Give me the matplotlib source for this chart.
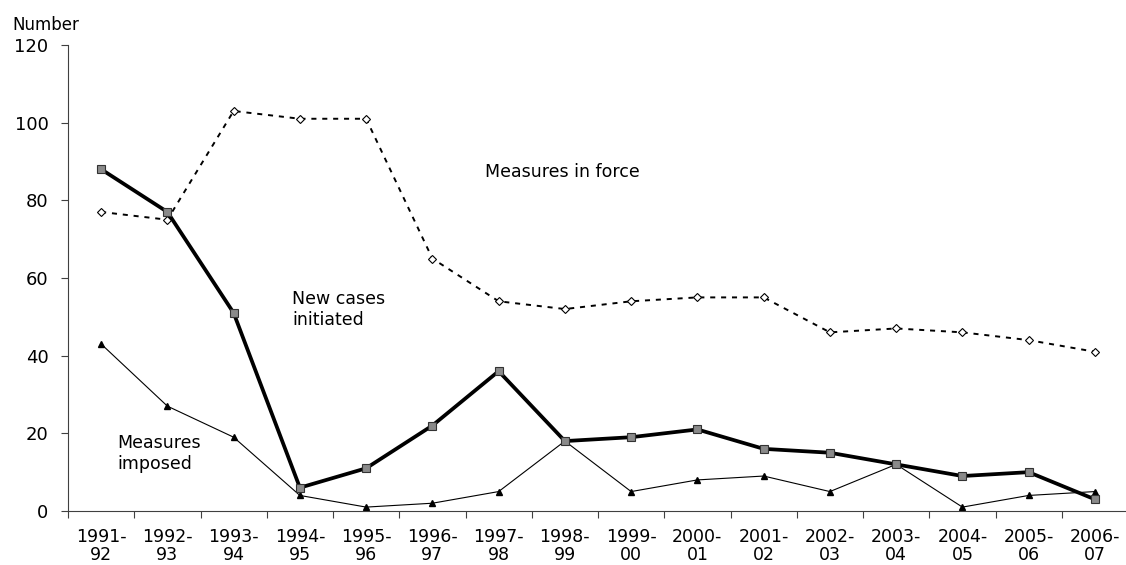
import matplotlib.pyplot as plt
import numpy as np

plt.rcParams['font.family'] = ['DejaVu Sans']

# Data
years = ['1991-\n92', '1992-\n93', '1993-\n94', '1994-\n95', '1995-\n96', '1996-\n97',
         '1997-\n98', '1998-\n99', '1999-\n00', '2000-\n01', '2001-\n02', '2002-\n03',
         '2003-\n04', '2004-\n05', '2005-\n06', '2006-\n07']
new_cases = [88, 77, 51, 6, 11, 22, 36, 18, 19, 21, 16, 15, 12, 9, 10, 3]
in_force = [77, 75, 103, 101, 101, 65, 54, 52, 54, 55, 55, 46, 47, 46, 44, 41]
imposed = [43, 27, 19, 4, 1, 2, 5, 18, 5, 8, 9, 5, 12, 1, 4, 5]

x = np.arange(len(years))

fig = plt.figure(figsize=(11.26, 5.65), dpi=100)
ax = fig.add_axes([0.0604, 0.0956, 0.9414, 0.8248])

ax.plot(x, in_force, color='black', lw=1.4, linestyle=(0, (2.6, 3)),
        marker='D', markersize=4, markerfacecolor='white', markeredgecolor='black',
        markeredgewidth=0.8)
ax.plot(x, imposed, color='black', lw=0.8, marker='^', markersize=5,
        markerfacecolor='black', markeredgecolor='black')
ax.plot(x, new_cases, color='black', lw=2.7, marker='s', markersize=5.5,
        markerfacecolor='#8a8a8a', markeredgecolor='#333333', markeredgewidth=0.8)

ax.set_xlim(-0.5, len(years) - 0.5)
ax.set_ylim(0, 120)
ax.set_yticks(range(0, 121, 20))

ax.set_xticks(np.arange(-0.5, len(years) + 0.5, 1))
ax.set_xticklabels([])
ax.set_xticks(x, minor=True)
ax.set_xticklabels(years, minor=True, fontsize=12.5, linespacing=1.05)
ax.tick_params(axis='x', which='major', length=5, direction='out', color='#404040')
ax.tick_params(axis='x', which='minor', length=0, pad=12)
ax.tick_params(axis='y', length=5, direction='out', color='#404040', labelsize=13, pad=9)

for s in ['top', 'right']:
    ax.spines[s].set_visible(False)
ax.spines['left'].set_color('#404040')
ax.spines['bottom'].set_color('#404040')

ax.text(5.8, 87.3, 'Measures in force', fontsize=12.5, va='center', ha='left')
ax.text(2.88, 51.8, 'New cases\ninitiated', fontsize=12.5, va='center', ha='left')
ax.text(0.25, 14.7, 'Measures\nimposed', fontsize=12.5, va='center', ha='left')
fig.text(12 / 1126, 1 - 25 / 565, 'Number', fontsize=12, va='center', ha='left')

fig.savefig('out.png', dpi=100)
